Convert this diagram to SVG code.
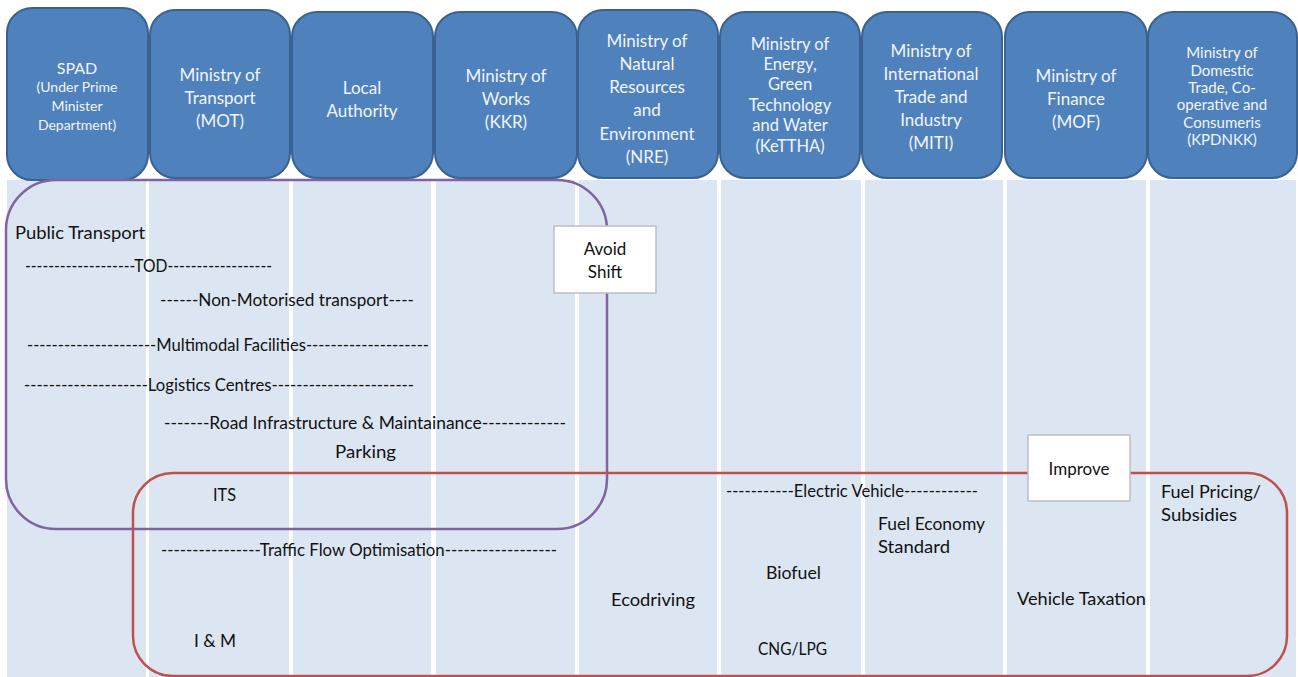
<svg xmlns="http://www.w3.org/2000/svg" width="1298" height="677" viewBox="0 0 1298 677">
<style>
.col{fill:#dce6f2}
.hdr rect{fill:#4f81bd;stroke:#3a6291;stroke-width:2}
.hdr text{font-family:Lato,"Open Sans","Liberation Sans",sans-serif;fill:#f2f5fa;text-anchor:middle;font-size:17px}
.b{font-family:Lato,"Open Sans","Liberation Sans",sans-serif;fill:#111111;font-size:17px}
.tag rect{fill:#ffffff;stroke:#bfbfbf;stroke-width:1.5}
.tag text{font-family:Lato,"Open Sans","Liberation Sans",sans-serif;fill:#111111;font-size:17px;text-anchor:middle}
</style>
<rect x="0" y="0" width="1298" height="677" fill="#ffffff"/>
<g id="columns">
<rect class="col" x="7" y="180" width="139" height="497"/>
<rect class="col" x="149" y="180" width="140" height="497"/>
<rect class="col" x="293" y="180" width="138" height="497"/>
<rect class="col" x="436" y="180" width="139" height="497"/>
<rect class="col" x="579" y="180" width="138" height="497"/>
<rect class="col" x="721" y="180" width="140" height="497"/>
<rect class="col" x="865" y="180" width="138" height="497"/>
<rect class="col" x="1007" y="180" width="139" height="497"/>
<rect class="col" x="1150" y="180" width="146" height="497"/>
</g>
<g id="h-spad" class="hdr">
<rect x="7" y="8" width="141" height="172" rx="25"/>
<text x="77" y="74" style="font-size:16px">SPAD</text>
<text x="77" y="92" style="font-size:14px">(Under Prime</text>
<text x="77" y="111" style="font-size:14px">Minister</text>
<text x="77" y="130" style="font-size:14px">Department)</text>
</g>
<g id="h-mot" class="hdr">
<rect x="150" y="10" width="140" height="168" rx="25"/>
<text x="220" y="81">Ministry of</text>
<text x="220" y="104">Transport</text>
<text x="220" y="127">(MOT)</text>
</g>
<g id="h-local" class="hdr">
<rect x="292" y="12" width="141" height="166" rx="25"/>
<text x="362" y="94">Local</text>
<text x="362" y="117">Authority</text>
</g>
<g id="h-kkr" class="hdr">
<rect x="435" y="12" width="142" height="166" rx="25"/>
<text x="506" y="82">Ministry of</text>
<text x="506" y="105">Works</text>
<text x="506" y="128">(KKR)</text>
</g>
<g id="h-nre" class="hdr">
<rect x="578" y="10" width="140" height="168" rx="25"/>
<text x="647" y="47">Ministry of</text>
<text x="647" y="70">Natural</text>
<text x="647" y="93">Resources</text>
<text x="647" y="116">and</text>
<text x="647" y="140">Environment</text>
<text x="647" y="163">(NRE)</text>
</g>
<g id="h-kettha" class="hdr">
<rect x="720" y="12" width="140" height="166" rx="25"/>
<text x="790" y="50" style="font-size:16.5px">Ministry of</text>
<text x="790" y="70" style="font-size:16.5px">Energy,</text>
<text x="790" y="90" style="font-size:16.5px">Green</text>
<text x="790" y="111" style="font-size:16.5px">Technology</text>
<text x="790" y="131" style="font-size:16.5px">and Water</text>
<text x="790" y="152" style="font-size:16.5px">(KeTTHA)</text>
</g>
<g id="h-miti" class="hdr">
<rect x="862" y="12" width="140" height="166" rx="25"/>
<text x="931" y="57">Ministry of</text>
<text x="931" y="80">International</text>
<text x="931" y="103">Trade and</text>
<text x="931" y="126">Industry</text>
<text x="931" y="149">(MITI)</text>
</g>
<g id="h-mof" class="hdr">
<rect x="1005" y="12" width="142" height="166" rx="25"/>
<text x="1076" y="82">Ministry of</text>
<text x="1076" y="105">Finance</text>
<text x="1076" y="128">(MOF)</text>
</g>
<g id="h-kpdnkk" class="hdr">
<rect x="1148" y="12" width="149" height="166" rx="25"/>
<text x="1222" y="58" style="font-size:15px">Ministry of</text>
<text x="1222" y="76" style="font-size:15px">Domestic</text>
<text x="1222" y="93" style="font-size:15px">Trade, Co-</text>
<text x="1222" y="110" style="font-size:15px">operative and</text>
<text x="1222" y="128" style="font-size:15px">Consumeris</text>
<text x="1222" y="145" style="font-size:15px">(KPDNKK)</text>
</g>
<g id="connectors">
<rect x="6" y="180" width="601" height="349" rx="50" fill="none" stroke="#8064a2" stroke-width="2.5"/>
<rect x="133" y="473" width="1154" height="203" rx="40" fill="none" stroke="#c0504d" stroke-width="2.5"/>
</g>
<g id="avoid-shift" class="tag">
<rect x="554" y="226" width="102" height="67"/>
<text x="605" y="255">Avoid</text>
<text x="605" y="278">Shift</text>
</g>
<g id="improve" class="tag">
<rect x="1028" y="435" width="102" height="66"/>
<text x="1079" y="475">Improve</text>
</g>
<g id="measures">
<text class="b" x="15" y="239" textLength="130" lengthAdjust="spacingAndGlyphs">Public Transport</text>
<text class="b" x="25" y="272" textLength="247" lengthAdjust="spacingAndGlyphs">-------------------TOD------------------</text>
<text class="b" x="160" y="306" textLength="254" lengthAdjust="spacingAndGlyphs">------Non-Motorised transport----</text>
<text class="b" x="27" y="351" textLength="402" lengthAdjust="spacingAndGlyphs">---------------------Multimodal Facilities--------------------</text>
<text class="b" x="24" y="391" textLength="390" lengthAdjust="spacingAndGlyphs">--------------------Logistics Centres-----------------------</text>
<text class="b" x="164" y="429" textLength="402" lengthAdjust="spacingAndGlyphs">-------Road Infrastructure &amp; Maintainance-------------</text>
<text class="b" x="335" y="458" textLength="61" lengthAdjust="spacingAndGlyphs">Parking</text>
<text class="b" x="213" y="501" textLength="23" lengthAdjust="spacingAndGlyphs">ITS</text>
<text class="b" x="161" y="556" textLength="396" lengthAdjust="spacingAndGlyphs">----------------Traffic Flow Optimisation------------------</text>
<text class="b" x="194" y="647" textLength="42" lengthAdjust="spacingAndGlyphs">I &amp; M</text>
<text class="b" x="611" y="606" textLength="84" lengthAdjust="spacingAndGlyphs">Ecodriving</text>
<text class="b" x="726" y="497" textLength="252" lengthAdjust="spacingAndGlyphs">-----------Electric Vehicle------------</text>
<text class="b" x="878" y="530" textLength="107" lengthAdjust="spacingAndGlyphs">Fuel Economy</text>
<text class="b" x="878" y="553" textLength="72" lengthAdjust="spacingAndGlyphs">Standard</text>
<text class="b" x="766" y="579" textLength="55" lengthAdjust="spacingAndGlyphs">Biofuel</text>
<text class="b" x="758" y="655" textLength="69" lengthAdjust="spacingAndGlyphs">CNG/LPG</text>
<text class="b" x="1017" y="605" textLength="129" lengthAdjust="spacingAndGlyphs">Vehicle Taxation</text>
<text class="b" x="1161" y="498" textLength="100" lengthAdjust="spacingAndGlyphs">Fuel Pricing/</text>
<text class="b" x="1161" y="521" textLength="76" lengthAdjust="spacingAndGlyphs">Subsidies</text>
</g>
</svg>
